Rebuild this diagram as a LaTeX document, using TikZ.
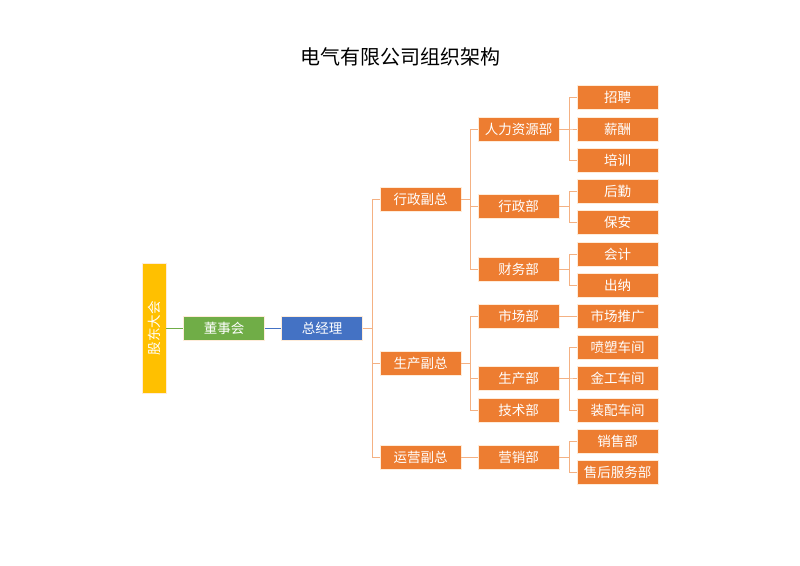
\documentclass[tikz,border=0pt]{standalone}
\usepackage{fontspec}
\setmainfont{Noto Sans CJK SC}
\begin{document}
\begin{tikzpicture}[x=1pt,y=-1pt,
  box/.style={draw=white!85!orange, line width=0.6pt, fill=boxorange, text=white, minimum width=81pt, minimum height=24pt, inner sep=0pt, font=\fontsize{13.5}{15}\selectfont},
  conn/.style={draw=lineorange, line width=1pt}]
\definecolor{boxorange}{HTML}{ED7D31}
\definecolor{lineorange}{HTML}{F4B183}
\definecolor{gold}{HTML}{FFC000}
\definecolor{grn}{HTML}{70AD47}
\definecolor{blu}{HTML}{4472C4}
\useasboundingbox[fill=white] (0,0) rectangle (800,565);
\node[font=\fontsize{20}{24}\selectfont] (title) at (400,57) {电气有限公司组织架构};
% left chain
\node[box, fill=gold, minimum width=24pt, minimum height=130pt] (gd) at (154,328) {};
\node[text=white, rotate=90, font=\fontsize{13.5}{15}\selectfont] (gdt) at (gd.center) {股东大会};
\node[box, fill=grn] (dsh) at (224,328) {董事会};
\node[box, fill=blu] (zjl) at (322,328) {总经理};
\draw[draw=grn, line width=1pt] (gd.east) -- (dsh.west);
\draw[draw=blu, line width=1pt] (dsh.east) -- (zjl.west);
% level 2
\node[box] (xz) at (420.5,199) {行政副总};
\node[box] (sc) at (420.5,363) {生产副总};
\node[box] (yy) at (420.5,457) {运营副总};
% level 3
\node[box] (rl) at (518.5,129) {人力资源部};
\node[box] (xzb) at (518.5,206) {行政部};
\node[box] (cw) at (518.5,269) {财务部};
\node[box] (scb) at (518.5,316) {市场部};
\node[box] (sb) at (518.5,378) {生产部};
\node[box] (js) at (518.5,410) {技术部};
\node[box] (yx) at (518.5,457) {营销部};
% level 4
\node[box] (zp) at (617.5,97) {招聘};
\node[box] (xc) at (617.5,129) {薪酬};
\node[box] (px) at (617.5,160) {培训};
\node[box] (hq) at (617.5,191) {后勤};
\node[box] (ba) at (617.5,222) {保安};
\node[box] (kj) at (617.5,254) {会计};
\node[box] (cn) at (617.5,285) {出纳};
\node[box] (tg) at (617.5,316) {市场推广};
\node[box] (ps) at (617.5,347) {喷塑车间};
\node[box] (jg) at (617.5,378) {金工车间};
\node[box] (zpj) at (617.5,410) {装配车间};
\node[box] (xs) at (617.5,441) {销售部};
\node[box] (sh) at (617.5,472) {售后服务部};
% connectors
\foreach \c in {xz,sc,yy} \draw[conn] (zjl.east) -- ++(10,0) |- (\c.west);
\foreach \c in {rl,xzb,cw} \draw[conn] (xz.east) -- ++(9,0) |- (\c.west);
\foreach \c in {scb,sb,js} \draw[conn] (sc.east) -- ++(9,0) |- (\c.west);
\draw[conn] (yy.east) -- (yx.west);
\foreach \c in {zp,xc,px} \draw[conn] (rl.east) -- ++(10,0) |- (\c.west);
\foreach \c in {hq,ba} \draw[conn] (xzb.east) -- ++(10,0) |- (\c.west);
\foreach \c in {kj,cn} \draw[conn] (cw.east) -- ++(10,0) |- (\c.west);
\draw[conn] (scb.east) -- (tg.west);
\foreach \c in {ps,jg,zpj} \draw[conn] (sb.east) -- ++(10,0) |- (\c.west);
\foreach \c in {xs,sh} \draw[conn] (yx.east) -- ++(10,0) |- (\c.west);
\end{tikzpicture}
\end{document}
